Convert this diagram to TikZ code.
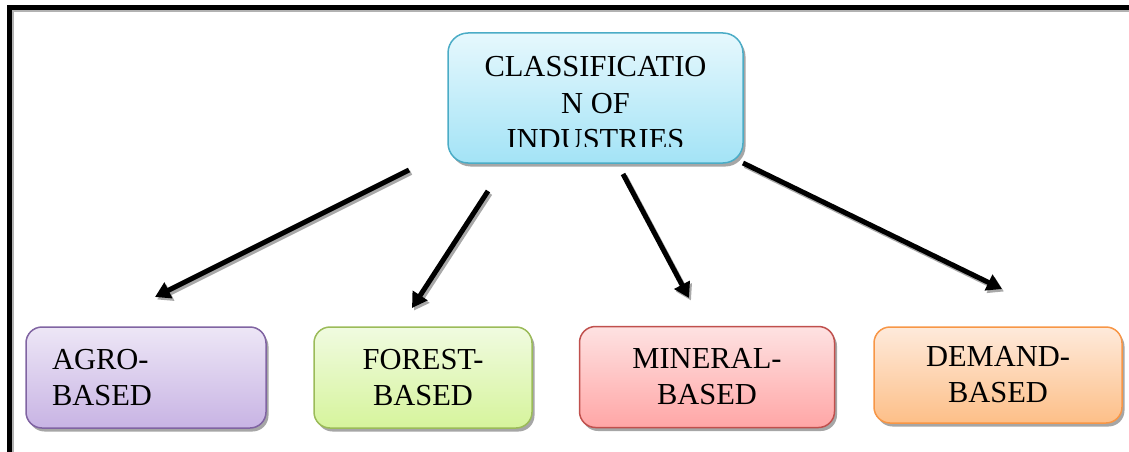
\documentclass[tikz,border=0pt]{standalone}
\usepackage{fontspec}
\setmainfont{Liberation Serif}
\usetikzlibrary{arrows.meta,shadows}

\definecolor{topFill1}{HTML}{E6F8FD}
\definecolor{topFill2}{HTML}{A3E3F6}
\definecolor{topLine}{HTML}{4BACC6}
\definecolor{agroFill1}{HTML}{EDE6F6}
\definecolor{agroFill2}{HTML}{C8B4E4}
\definecolor{agroLine}{HTML}{8064A2}
\definecolor{forestFill1}{HTML}{F0FBE0}
\definecolor{forestFill2}{HTML}{D6F49C}
\definecolor{forestLine}{HTML}{9BBB59}
\definecolor{mineralFill1}{HTML}{FEE2E2}
\definecolor{mineralFill2}{HTML}{FFA6A6}
\definecolor{mineralLine}{HTML}{C0504D}
\definecolor{demandFill1}{HTML}{FEEADB}
\definecolor{demandFill2}{HTML}{FDBF88}
\definecolor{demandLine}{HTML}{F79646}
\definecolor{arrowShade}{HTML}{A8A8A8}

\begin{document}
\begin{tikzpicture}[x=1pt,y=-1pt,
  boxtext/.style={font=\fontsize{30.5}{36}\selectfont},
  catbox/.style={draw, line width=1.5pt, rounded corners=16pt,
    minimum height=101pt, inner ysep=0pt, align=center, boxtext,
    drop shadow={shadow xshift=2.5pt, shadow yshift=-3.5pt,
      fill=black, opacity=0.35}},
  linkarrow/.style={line width=5pt, -{Triangle[length=15pt,width=17pt]}},
]
\useasboundingbox (0,0) rectangle (1129,452);

% page frame (top and left rules)
\draw[black!30, line width=2pt] (13,452) -- (13,11) -- (1129,11);
\draw[line width=5pt] (9.5,452) -- (9.5,7.5) -- (1129,7.5);

% root box
\node[draw=topLine, line width=1.5pt, rounded corners=20pt,
      top color=topFill1, bottom color=topFill2,
      minimum width=295pt, minimum height=130pt,
      drop shadow={shadow xshift=2.5pt, shadow yshift=-3.5pt,
        fill=black, opacity=0.35}]
  (root) at (595.5,98) {};
\begin{scope}
  \clip (450,36) rectangle (741,146);
  \node[boxtext, anchor=base, inner sep=0pt] (rootA) at (595.5,77) {CLASSIFICATIO};
  \node[boxtext, anchor=base, inner sep=0pt] (rootB) at (595.5,113) {N OF};
  \node[boxtext, anchor=base, inner sep=0pt] (rootC) at (595.5,149) {INDUSTRIES};
\end{scope}

% category boxes
\node[catbox, draw=agroLine, top color=agroFill1, bottom color=agroFill2,
      text width=188pt, inner xsep=26pt, align=left]
  (agro) at (146,377.5) {AGRO-\\BASED};
\node[catbox, draw=forestLine, top color=forestFill1, bottom color=forestFill2,
      minimum width=218pt, text width=200pt, inner xsep=9pt]
  (forest) at (423,377.5) {FOREST-\\BASED};
\node[catbox, draw=mineralLine, top color=mineralFill1, bottom color=mineralFill2,
      minimum width=255pt, text width=237pt, inner xsep=9pt]
  (mineral) at (707,377) {MINERAL-\\BASED};
\node[catbox, draw=demandLine, top color=demandFill1, bottom color=demandFill2,
      minimum width=248pt, minimum height=96pt, text width=230pt, inner xsep=9pt]
  (demand) at (998,375) {DEMAND-\\BASED};

% arrow end points
\coordinate (s1) at (409,170);  \coordinate (e1) at (155,297);
\coordinate (s2) at (488,191);  \coordinate (e2) at (412,308);
\coordinate (s3) at (623,174);  \coordinate (e3) at (689,298);
\coordinate (s4) at (743,163);  \coordinate (e4) at (1002,289);

% arrow shadows
\foreach \i in {1,...,4}
  \draw[linkarrow, arrowShade, transform canvas={shift={(2pt,-2.5pt)}}]
    (s\i) -- (e\i);
% arrows
\foreach \i in {1,...,4}
  \draw[linkarrow] (s\i) -- (e\i);
\end{tikzpicture}
\end{document}
